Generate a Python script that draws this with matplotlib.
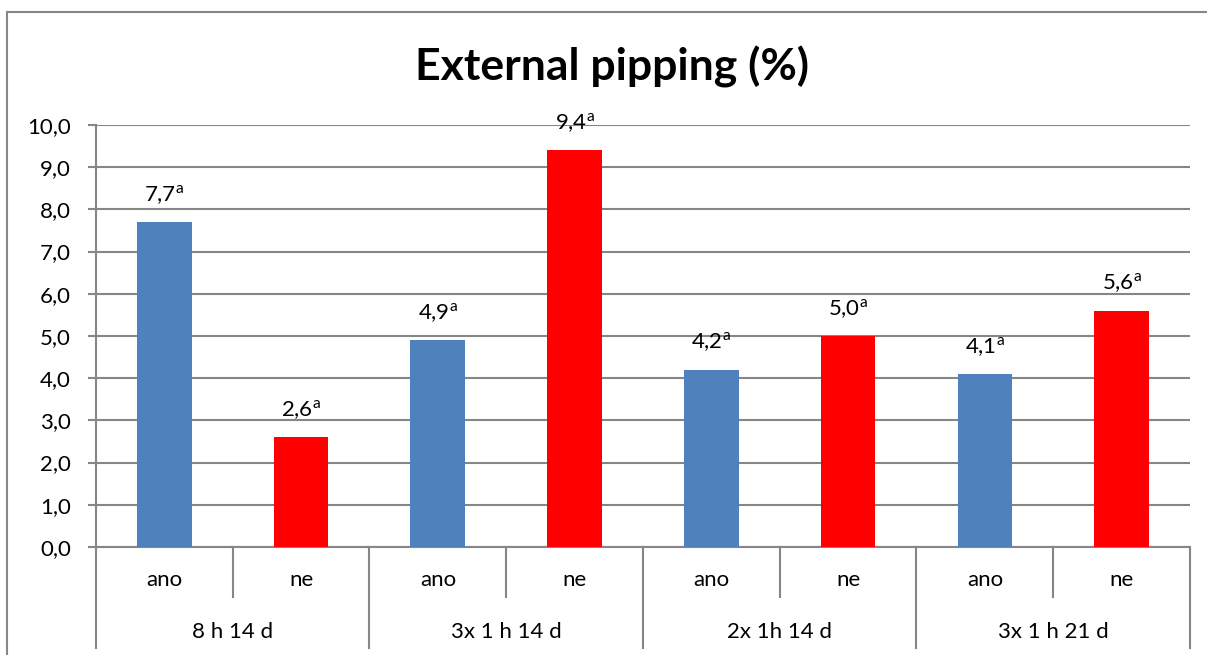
import numpy as np
import matplotlib.pyplot as plt
from matplotlib.patches import Rectangle

plt.rcParams['font.family'] = ['Lato', 'DejaVu Sans']
plt.rcParams['mathtext.fontset'] = 'custom'
plt.rcParams['mathtext.rm'] = 'Lato'

# data
skupiny = ['8 h 14 d', '3x 1 h 14 d', '2x 1h 14 d', '3x 1 h 21 d']
kategorie = ['ano', 'ne', 'ano', 'ne', 'ano', 'ne', 'ano', 'ne']
hodnoty = [7.7, 2.6, 4.9, 9.4, 4.2, 5.0, 4.1, 5.6]
pismena = ['a', 'a', 'a', 'a', 'a', 'a', 'a', 'a']
barvy = ['#4F81BD', '#FF0000'] * 4
sediva = '#868686'

fig = plt.figure(figsize=(12.07, 6.55), dpi=100)
ax = fig.add_axes([0.0795, 0.1649, 0.9064, 0.6443])

# ramecek grafu
fig.patches.append(Rectangle((7 / 1207, -0.1), 1.2, (655 - 12) / 655 + 0.1,
                             transform=fig.transFigure, fill=False,
                             edgecolor=sediva, linewidth=1.5))

x = np.arange(len(hodnoty))
sloupce = ax.bar(x, hodnoty, width=0.4, color=barvy, zorder=3)

for s, h, p in zip(sloupce, hodnoty, pismena):
    txt = ('%.1f' % h).replace('.', ',') + r'$^{\mathrm{' + p + '}}$'
    ax.annotate(txt, (s.get_x() + s.get_width() / 2, h), xytext=(0, 11),
                textcoords='offset points', ha='center', va='bottom',
                fontsize=16)

ax.set_xlim(-0.5, 7.5)
ax.set_ylim(0, 10)
ax.set_yticks(np.arange(0, 10.1, 1))
ax.set_yticklabels([('%.1f' % v).replace('.', ',') for v in np.arange(0, 10.1, 1)])
ax.yaxis.grid(True, color=sediva, linewidth=1.5, zorder=0)
ax.tick_params(axis='y', labelsize=16, length=6, width=1.5, color=sediva, pad=12)
ax.set_xticks([])

for strana in ['top', 'right']:
    ax.spines[strana].set_visible(False)
ax.spines['left'].set_color(sediva)
ax.spines['left'].set_linewidth(1.5)
ax.spines['bottom'].set_color(sediva)
ax.spines['bottom'].set_linewidth(1.5)

# dvouurovnova osa x
tr = ax.get_xaxis_transform()
for i, k in enumerate(kategorie):
    ax.text(i, -0.078, k, transform=tr, ha='center', va='center', fontsize=16)
for j, g in enumerate(skupiny):
    ax.text(2 * j + 0.5, -0.201, g, transform=tr, ha='center', va='center', fontsize=16)
for xs in np.arange(0.5, 7, 2):
    ax.plot([xs, xs], [0, -0.118], transform=tr, color=sediva, lw=1.5, clip_on=False)
for xs in np.arange(-0.5, 8, 2):
    ax.plot([xs, xs], [0, -0.239], transform=tr, color=sediva, lw=1.5, clip_on=False)

# nadpis na stred celeho grafu
fig.text(0.507, 1 - 67 / 655, 'External pipping (%)', fontsize=32,
         fontweight='bold', ha='center', va='center')

fig.savefig('out.png', dpi=100)
